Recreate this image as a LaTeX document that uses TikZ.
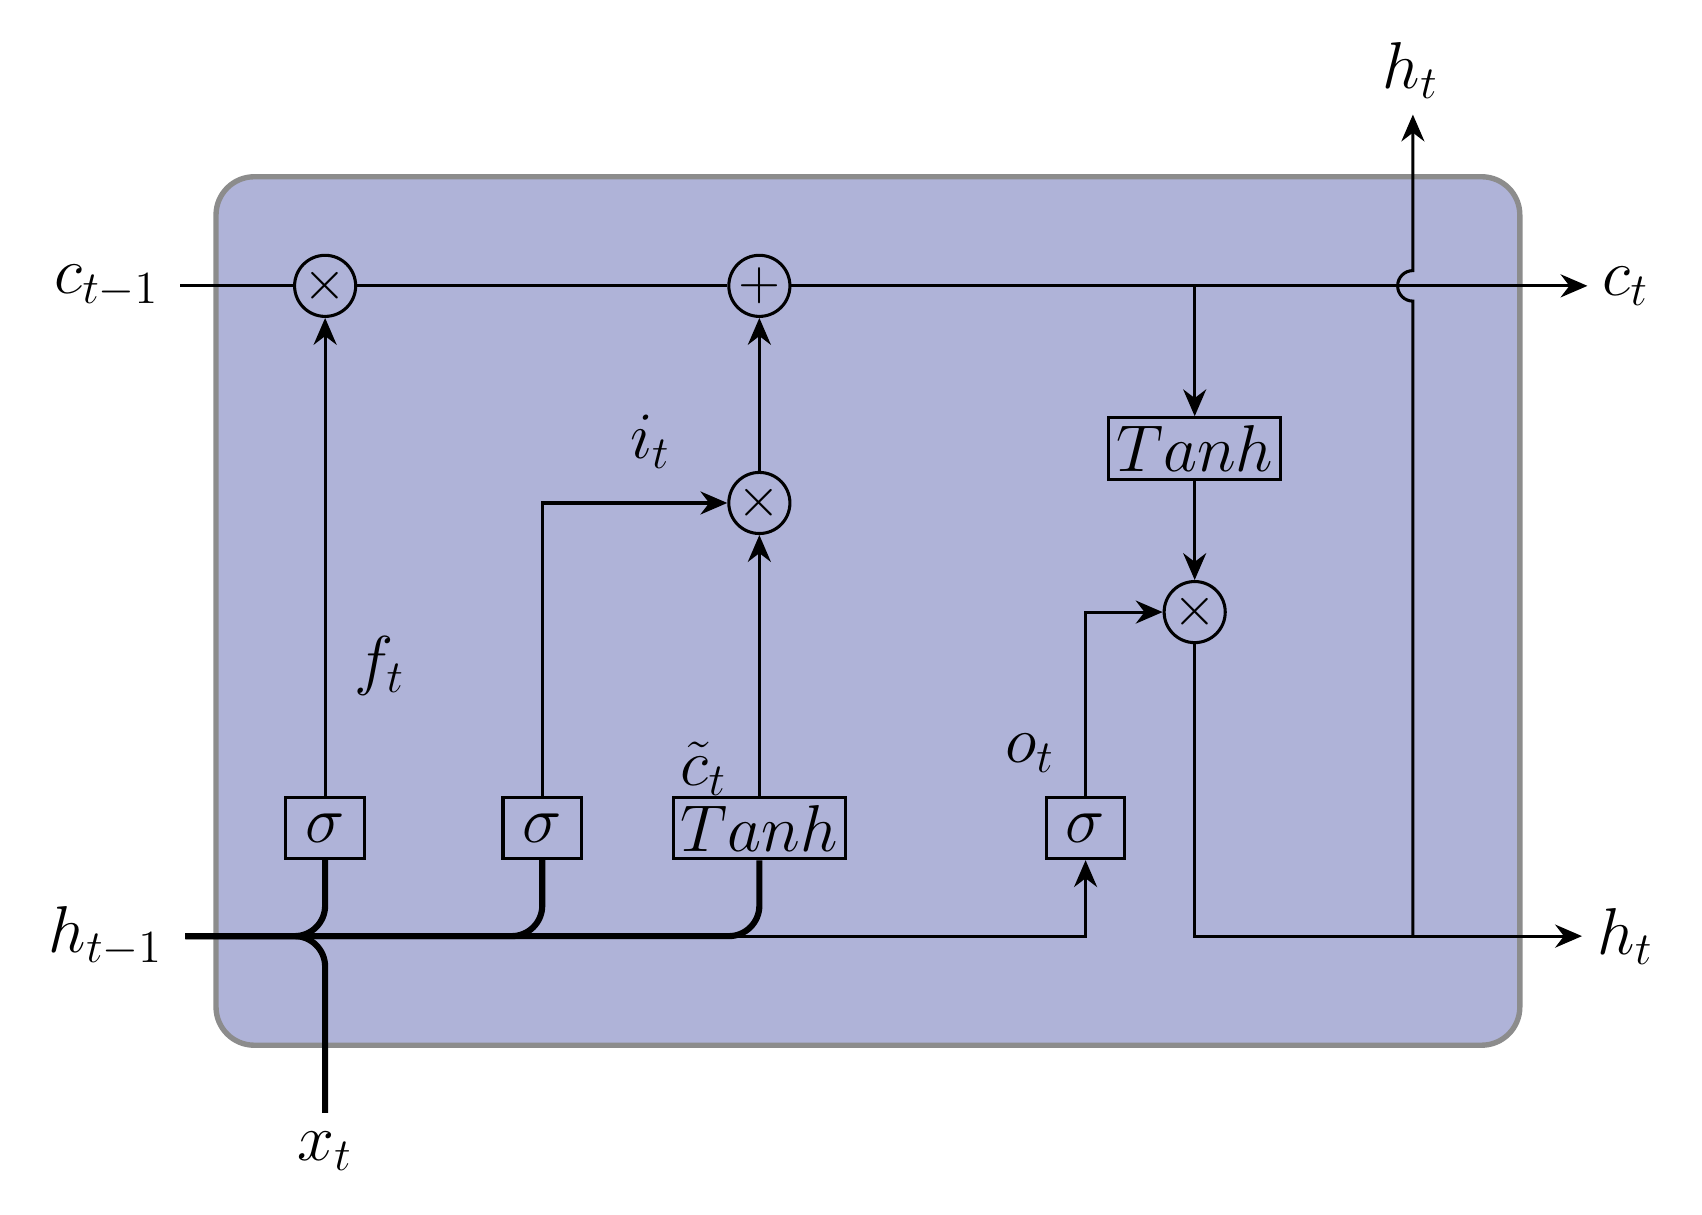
\documentclass[tikz,border=0pt]{standalone}
\usepackage{amsmath}
\usepackage{amssymb}
\usetikzlibrary{arrows.meta}
\definecolor{cellfill}{HTML}{AFB3D8}
\tikzset{
  op/.style={draw,circle,minimum size=0.56cm,inner sep=0pt,line width=0.8pt,font=\Large},
  gate/.style={draw,rectangle,minimum height=0.56cm,inner sep=2pt,line width=0.8pt,font=\LARGE},
  lab/.style={font=\LARGE},
  thin line/.style={line width=0.8pt},
  thick line/.style={line width=1.6pt,rounded corners=0.28cm},
  arr/.style={-{Stealth[length=7pt,width=6pt]}}
}
\begin{document}
\begin{tikzpicture}[x=1cm,y=1cm]
  \useasboundingbox (0,0) rectangle (15.6,11.13);
  \draw[color=black!45,fill=cellfill,line width=1.4pt,rounded corners=0.35cm] (1.98,1.55) rectangle (13.93,9.51);

  % operators
  \node[op] (fmul) at (2.98,8.51) {$\times$};
  \node[op] (add) at (6.96,8.51) {$+$};
  \node[op] (imul) at (6.96,6.52) {$\times$};
  \node[op] (omul) at (10.95,5.52) {$\times$};
  \node[gate] (tanhc) at (10.95,7.02) {$Tanh$};

  % gates
  \node[gate,minimum width=0.72cm] (sf) at (2.98,3.54) {$\sigma$};
  \node[gate,minimum width=0.72cm] (si) at (4.97,3.54) {$\sigma$};
  \node[gate] (tc) at (6.96,3.54) {$Tanh$};
  \node[gate,minimum width=0.72cm] (so) at (9.95,3.54) {$\sigma$};

  % inputs and outputs
  \node[lab] (cin) at (0.98,8.51) {$c_{t-1}$};
  \node[lab] (cout) at (14.9,8.51) {$c_t$};
  \node[lab] (hin) at (0.97,2.55) {$h_{t-1}$};
  \node[lab] (hout) at (14.9,2.55) {$h_t$};
  \node[lab] (htop) at (12.93,10.48) {$h_t$};
  \node[lab] (xt) at (2.98,0.58) {$x_t$};
  \coordinate (cstart) at (1.65,8.51);
  \coordinate (cend) at (14.55,8.51);
  \coordinate (hstart) at (1.70,2.55);
  \coordinate (hend) at (14.50,2.55);
  \coordinate (xstart) at (2.98,0.93);
  \coordinate (ctap) at (10.95,8.51);
  \coordinate (osplit) at (12.95,2.55);
  \coordinate (otop) at (12.95,10.08);

  % labels
  \node[lab] at (3.48,5.03) {$f_t$};
  \node[lab] at (5.96,7.08) {$i_t$};
  \node[lab] at (6.45,4.08) {$\tilde{c}_t$};
  \node[lab] at (9.44,4.23) {$o_t$};

  % cell state
  \draw[thin line] (cstart) -- (fmul) -- (add);
  \draw[thin line,arr] (add) -- (cend);
  \draw[thin line,arr] (ctap) -- (tanhc);
  \draw[thin line,arr] (tanhc) -- (omul);

  % gate paths
  \draw[thin line,arr] (sf) -- (fmul);
  \draw[thin line,arr] (si.north) |- (imul);
  \draw[thin line,arr] (tc) -- (imul);
  \draw[thin line,arr] (imul) -- (add);
  \draw[thin line,arr] (so.north) |- (omul);

  % inputs
  \draw[thick line] (sf.south) |- (hstart);
  \draw[thick line] (xstart) |- (hstart);
  \draw[thick line] (si.south) |- (hstart);
  \draw[thick line] (tc.south) |- (hstart);
  \draw[thin line,arr] (6.6,2.55) -| (so.south);

  % output
  \draw[thin line,arr] (omul) |- (hend);
  \draw[thin line,arr] (osplit) -- (12.95,8.37) arc[start angle=270,end angle=90,radius=0.14] -- (otop);
\end{tikzpicture}
\end{document}
